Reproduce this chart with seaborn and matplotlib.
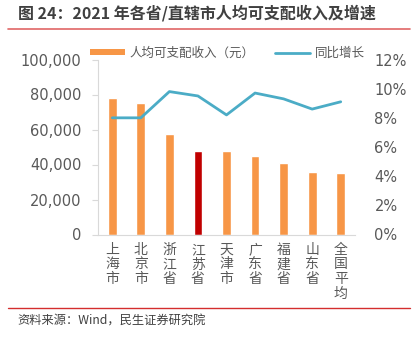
import numpy as np
import pandas as pd
import matplotlib
matplotlib.use("Agg")
import matplotlib.pyplot as plt
from matplotlib.patches import Patch
from matplotlib.lines import Line2D
from matplotlib.ticker import FuncFormatter, MultipleLocator
import seaborn as sns

# Data
regions = ["上海市", "北京市", "浙江省", "江苏省", "天津市", "广东省", "福建省", "山东省", "全国平均"]
income = [78027, 75002, 57541, 47498, 47449, 44993, 40659, 35705, 35128]
growth = [8.0, 8.0, 9.8, 9.5, 8.2, 9.7, 9.3, 8.6, 9.1]
highlight = "江苏省"

sns.set_theme(style="white")
plt.rcParams["font.family"] = ["Noto Sans CJK SC", "DejaVu Sans"]

ORANGE = "#F79646"
RED = "#C00000"
BLUE = "#4BACC6"
TXT = "#595959"
AXC = "#D9D9D9"

df = pd.DataFrame({"region": regions, "income": income, "growth": growth})
df["idx"] = np.arange(len(df))
bar_colors = {r: (RED if r == highlight else ORANGE) for r in regions}

fig = plt.figure(figsize=(4.18, 3.38), dpi=100)
ax = fig.add_axes([98 / 418, (338 - 234.5) / 338, 257 / 418, 175 / 338])

sns.barplot(data=df, x="region", y="income", hue="region", palette=bar_colors,
            legend=False, width=0.31, ax=ax, saturation=1)
ax.set_xlim(-0.5, len(regions) - 0.5)
ax.set_ylim(0, 100000)
ax.yaxis.set_major_locator(MultipleLocator(20000))
ax.yaxis.set_major_formatter(FuncFormatter(lambda v, p: f"{int(v):,}"))
ax.set_xlabel("")
ax.set_ylabel("")

ax.set_xticks(np.arange(len(regions)))
ax.set_xticklabels(["\n".join(r) for r in regions], fontsize=10, color=TXT,
                   linespacing=1.05)
ax.tick_params(axis="x", length=0, pad=6)
# category boundary ticks below the axis
ax.set_xticks(np.arange(len(regions) + 1) - 0.5, minor=True)
ax.tick_params(axis="x", which="minor", length=4, color=AXC, width=0.8, direction="out")
ax.tick_params(axis="y", labelsize=10.5, labelcolor=TXT, length=4, color=AXC,
               width=0.8, direction="out", pad=8, left=True)
for t in ax.get_yticklabels():
    t.set_family("DejaVu Sans")

for s in ["top", "right"]:
    ax.spines[s].set_visible(False)
for s in ["left", "bottom"]:
    ax.spines[s].set_color(AXC)
    ax.spines[s].set_linewidth(0.8)

ax2 = ax.twinx()
sns.lineplot(data=df, x="idx", y="growth", color=BLUE, linewidth=2, ax=ax2)
ax2.set_ylim(0, 12)
ax2.yaxis.set_major_locator(MultipleLocator(2))
ax2.yaxis.set_major_formatter(FuncFormatter(lambda v, p: f"{int(round(v))}%"))
ax2.tick_params(axis="y", labelsize=10.5, labelcolor=TXT, length=0, pad=14)
for t in ax2.get_yticklabels():
    t.set_family("DejaVu Sans")
ax2.set_ylabel("")
ax2.set_xlabel("")
for s in ["top", "right", "left", "bottom"]:
    ax2.spines[s].set_visible(False)
ax2.set_xlim(-0.5, len(regions) - 0.5)

# Legend
handles = [Patch(facecolor=ORANGE, edgecolor="none"),
           Line2D([0], [0], color=BLUE, linewidth=2)]
fig.legend(handles, ["人均可支配收入（元）", "同比增长"], loc="center",
           bbox_to_anchor=(227 / 418, 1 - 53 / 338), ncol=2, frameon=False,
           fontsize=9, labelcolor=TXT, handlelength=2.8, handleheight=0.45,
           columnspacing=1.6, handletextpad=0.4)

# Title and footer
fig.text(18 / 418, 1 - 13 / 338, "图 24：2021 年各省/直辖市人均可支配收入及增速",
         fontsize=11.5, fontweight="bold", color="#404040", va="center", ha="left")
fig.add_artist(Line2D([8 / 418, 410 / 418], [1 - 28.5 / 338] * 2, color="#E06666",
                      linewidth=1.2, transform=fig.transFigure))
fig.add_artist(Line2D([8 / 418, 410 / 418], [1 - 308 / 338] * 2, color="#D42E2E",
                      linewidth=1, transform=fig.transFigure))
fig.text(17 / 418, 1 - 321 / 338, "资料来源：Wind，民生证券研究院",
         fontsize=8.8, color="#404040", va="center", ha="left")

fig.savefig("out.png", dpi=100)
